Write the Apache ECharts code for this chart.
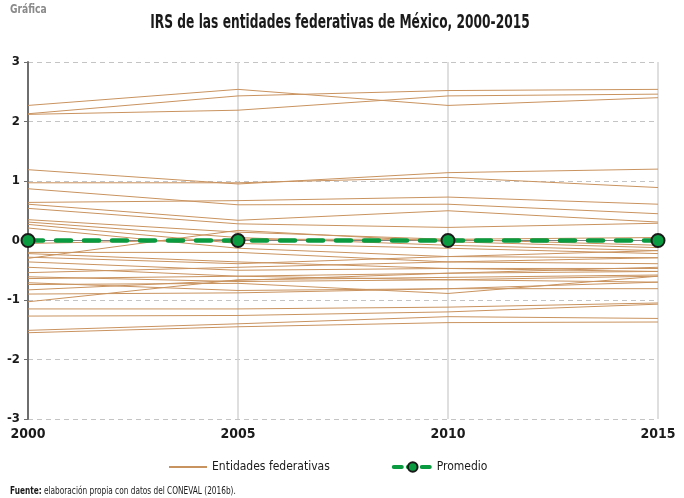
<!DOCTYPE html>
<html>
<head>
<meta charset="utf-8">
<script src="https://cdn.jsdelivr.net/npm/echarts@6/dist/echarts.min.js"></script>
<style>
html,body{margin:0;padding:0;background:#fff;}
#c{width:684px;height:498px;}
</style>
</head>
<body>
<div id="c"></div>
<script>
const years = ['2000', '2005', '2010', '2015'];
const promedio = [0, 0, 0, 0];
const entidades = [
  [2.27, 2.54, 2.27, 2.40],
  [2.13, 2.43, 2.52, 2.54],
  [2.12, 2.19, 2.43, 2.46],
  [1.19, 0.95, 1.14, 1.20],
  [0.97, 0.97, 1.06, 0.89],
  [0.87, 0.60, 0.61, 0.45],
  [0.64, 0.67, 0.73, 0.61],
  [0.61, 0.34, 0.50, 0.31],
  [0.54, 0.28, 0.22, 0.29],
  [0.35, 0.14, 0.02, -0.08],
  [0.31, 0.05, -0.08, -0.17],
  [0.27, -0.05, -0.13, -0.22],
  [0.21, -0.13, -0.27, -0.29],
  [-0.30, 0.17, -0.02, -0.12],
  [-0.20, -0.20, -0.36, -0.39],
  [-0.22, -0.36, -0.47, -0.47],
  [-0.28, -0.39, -0.27, -0.17],
  [-0.36, -0.50, -0.47, -0.52],
  [-0.45, -0.60, -0.66, -0.60],
  [-0.54, -0.45, -0.36, -0.29],
  [-0.61, -0.69, -0.66, -0.70],
  [-0.64, -0.60, -0.55, -0.45],
  [-0.71, -0.84, -0.81, -0.81],
  [-0.74, -0.72, -0.89, -0.60],
  [-0.83, -0.67, -0.55, -0.52],
  [-1.03, -0.66, -0.62, -0.58],
  [-1.15, -1.15, -1.12, -1.05],
  [-1.27, -1.26, -1.20, -1.07],
  [-1.51, -1.40, -1.28, -1.31],
  [-1.55, -1.45, -1.38, -1.37],
  [-0.90, -0.88, -0.81, -0.70],
  [-0.05, 0.02, 0.02, 0.05]
];
const yMin = -3, yMax = 3, yStep = 1;

const FONT = "'DejaVu Sans Condensed','Liberation Sans Narrow','Liberation Sans',sans-serif";
const chart = echarts.init(document.getElementById('c'), null, {renderer: 'canvas'});

const series = entidades.map(row => ({
  name: 'Entidades federativas',
  type: 'line',
  data: row,
  symbol: 'none',
  silent: true,
  lineStyle: {color: '#c9935f', width: 1},
  itemStyle: {color: '#c9935f'},
  z: 2
}));
series.push({
  name: 'Promedio',
  type: 'line',
  data: promedio,
  symbol: 'circle',
  symbolSize: 13,
  lineStyle: {color: '#0a9a40', width: 4.5, type: [15, 13], cap: 'round'},
  itemStyle: {color: '#0a9a40', borderColor: '#1a1a1a', borderWidth: 2},
  markLine: {
    silent: true, symbol: 'none', label: {show: false},
    lineStyle: {color: '#808080', width: 1, type: 'solid'},
    data: [{yAxis: 0}], z: 1
  },
  z: 5
});

chart.setOption({
  animation: false,
  textStyle: {fontFamily: FONT},
  graphic: [
    {type: 'text', x: 10, y: 4, scaleX: 0.85, style: {text: 'Gráfica', font: "bold 12px " + FONT, fill: '#8a8a8a'}},
    {type: 'text', x: 340, y: 13, scaleX: 0.68, style: {
      text: 'IRS de las entidades federativas de México, 2000-2015',
      textAlign: 'center', font: "bold 20px " + FONT, fill: '#1a1a1a'
    }},
    {type: 'text', x: 10, y: 486, scaleX: 0.82, style: {
      text: '{b|Fuente:} elaboración propia con datos del CONEVAL (2016b).',
      font: "10px " + FONT, fill: '#1a1a1a',
      rich: {b: {fontWeight: 'bold', fontFamily: FONT, fontSize: 10}}
    }}
  ],
  legend: {
    top: 456, left: 163,
    itemGap: 62, itemWidth: 38, itemHeight: 12,
    textStyle: {fontFamily: FONT, fontSize: 12, color: '#1a1a1a'},
    data: [
      {name: 'Entidades federativas', itemStyle: {opacity: 0}},
      {name: 'Promedio', lineStyle: {width: 4, type: [8, 6]}}
    ]
  },
  grid: {left: 28, right: 26, top: 62, bottom: 79},
  xAxis: {
    type: 'category', data: years, boundaryGap: false,
    axisLine: {show: false},
    axisTick: {show: true, length: 5, lineStyle: {color: '#b0b0b0', width: 1.5}},
    axisLabel: {fontFamily: FONT, fontSize: 14, fontWeight: 'bold', color: '#1a1a1a', margin: 8},
    splitLine: {show: true, lineStyle: {color: '#d4d4d4', width: 1.5}}
  },
  yAxis: {
    type: 'value', min: yMin, max: yMax, interval: yStep,
    axisLine: {show: true, lineStyle: {color: '#6e6e6e', width: 2}},
    axisTick: {show: true, length: 4, lineStyle: {color: '#6e6e6e'}},
    axisLabel: {fontFamily: FONT, fontSize: 13, fontWeight: 'bold', color: '#1a1a1a', margin: 8},
    splitLine: {show: true, lineStyle: {color: '#c4c4c4', type: [5, 4], width: 1}}
  },
  series: series
});
</script>
</body>
</html>
